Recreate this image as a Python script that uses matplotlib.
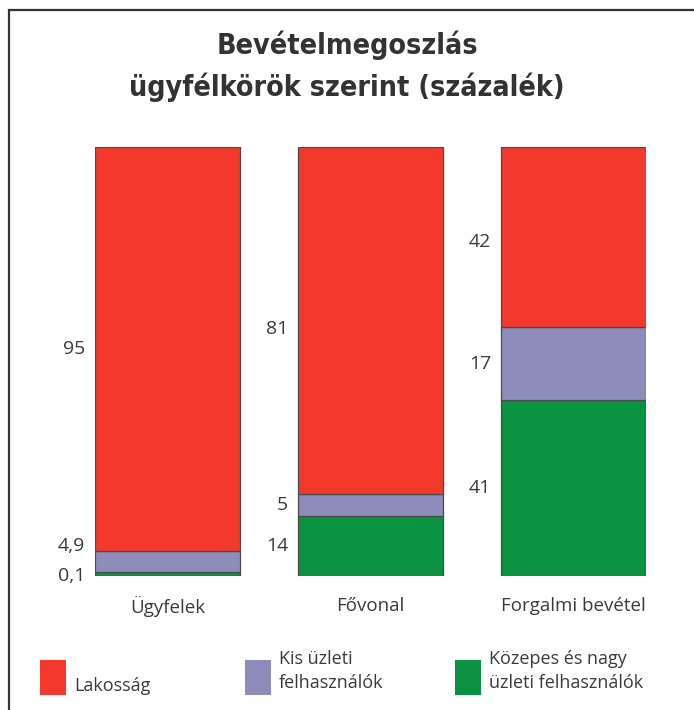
import numpy as np
import matplotlib.pyplot as plt
from matplotlib.patches import Rectangle

# data (percent)
categories = ['Ügyfelek', 'Fővonal', 'Forgalmi bevétel']
series_names = ['Lakosság', 'Kis üzleti\nfelhasználók', 'Közepes és nagy\nüzleti felhasználók']
green_vals = [0.1, 14, 41]
purple_vals = [4.9, 5, 17]
red_vals = [95, 81, 42]
label_text = [['0,1', '4,9', '95'], ['14', '5', '81'], ['41', '17', '42']]

colors = ['#f2392c', '#8e8cba', '#0b9142']  # red, purple, green
edge = '#4a4a4a'
txt = '#3a3a3a'

plt.rcParams['font.family'] = ['Open Sans', 'DejaVu Sans']

W, H = 694, 710
fig = plt.figure(figsize=(W / 100, H / 100), dpi=100)

# frame around the chart (left + top visible)
fig.patches.append(Rectangle((9 / W, -0.05), 1.2, (H - 10) / H + 0.05,
                             transform=fig.transFigure, fill=False,
                             edgecolor='#333333', lw=1.6))

# title
title_font = dict(fontsize=20.5, fontweight='bold', color='#333333',
                  family=['DejaVu Sans'], stretch='condensed')
fig.text(0.5, 1 - 45 / H, 'Bevételmegoszlás', ha='center', va='center', **title_font)
fig.text(0.5, 1 - 87 / H, 'ügyfélkörök szerint (százalék)', ha='center', va='center', **title_font)

ax = fig.add_axes([95 / W, (H - 576) / H, (646 - 95) / W, (576 - 147) / H])
x = np.arange(len(categories))
bw = 0.714
stack = [green_vals, purple_vals, red_vals]
stack_cols = [colors[2], colors[1], colors[0]]

# tiny segments get a minimum visible height, then bars are rescaled to 100
disp = np.maximum(np.array(stack, dtype=float), 0.9)
disp = disp * 100 / disp.sum(axis=0)

bottom = np.zeros(len(categories))
for vals, c in zip(disp, stack_cols):
    ax.bar(x, vals, bw, bottom=bottom, color=c, edgecolor=edge, lw=0.9)
    bottom += vals

ax.set_xlim(-0.5 * bw, 2 + 0.5 * bw)
ax.set_ylim(0, 100)
ax.axis('off')

# value labels left of each segment
nudge = {(0, 1): 16, (0, 0): -2, (1, 2): -8, (2, 2): -5}
for i in range(len(categories)):
    b = 0
    for j in range(len(stack)):
        v = disp[j][i]
        mid = b + v / 2
        b += v
        ax.annotate(label_text[i][j], (x[i] - bw / 2, mid),
                    xytext=(-10, nudge.get((i, j), 0)), textcoords='offset pixels',
                    ha='right', va='center', fontsize=14, color=txt)
    ax.annotate(categories[i], (x[i], 0), xytext=(0, -30), textcoords='offset pixels',
                ha='center', va='center', fontsize=13.5, color=txt)

# legend
leg_x = [40, 245, 455]
for lx, c, name in zip(leg_x, colors, series_names):
    fig.patches.append(Rectangle((lx / W, (H - 695) / H), 26 / W, 35 / H,
                                 transform=fig.transFigure, facecolor=c,
                                 edgecolor='none'))
    n = name.count('\n')
    fig.text((lx + 34) / W, (H - 686) / H if n == 0 else (H - 671) / H, name,
             ha='left', va='center', fontsize=13, color=txt, linespacing=1.45)

fig.savefig('out.png', dpi=100, facecolor='white')
